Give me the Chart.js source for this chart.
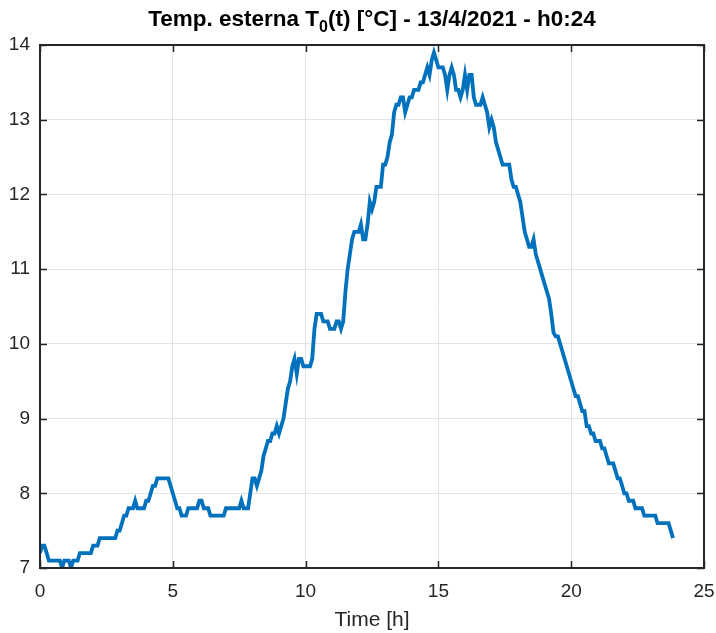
<!DOCTYPE html>
<html>
<head>
<meta charset="utf-8">
<script src="https://cdn.jsdelivr.net/npm/chart.js@4.4.0/dist/chart.umd.min.js"></script>
<style>
  html, body { margin: 0; padding: 0; background: #fff; }
  #wrap { position: relative; width: 716px; height: 633px; }
</style>
</head>
<body>
<div id="wrap"><canvas id="tempChart"></canvas></div>
<script>
// temperatura esterna, un campione ogni 5 minuti a partire dalle 0:00 (una riga per ora)
const stepMin = 5;
const temperature = [
  7.2, 7.3, 7.3, 7.2, 7.1, 7.1, 7.1, 7.1, 7.1, 7.1, 7.0, 7.1,
  7.1, 7.1, 7.0, 7.1, 7.1, 7.1, 7.2, 7.2, 7.2, 7.2, 7.2, 7.2,
  7.3, 7.3, 7.3, 7.4, 7.4, 7.4, 7.4, 7.4, 7.4, 7.4, 7.4, 7.5,
  7.5, 7.6, 7.7, 7.7, 7.8, 7.8, 7.8, 7.9, 7.8, 7.8, 7.8, 7.8,
  7.9, 7.9, 8.0, 8.1, 8.1, 8.2, 8.2, 8.2, 8.2, 8.2, 8.2, 8.1,
  8.0, 7.9, 7.8, 7.8, 7.7, 7.7, 7.7, 7.8, 7.8, 7.8, 7.8, 7.8,
  7.9, 7.9, 7.8, 7.8, 7.8, 7.7, 7.7, 7.7, 7.7, 7.7, 7.7, 7.7,
  7.8, 7.8, 7.8, 7.8, 7.8, 7.8, 7.8, 7.9, 7.8, 7.8, 7.8, 8.0,
  8.2, 8.2, 8.1, 8.2, 8.3, 8.5, 8.6, 8.7, 8.7, 8.8, 8.8, 8.9,
  8.8, 8.9, 9.0, 9.2, 9.4, 9.5, 9.7, 9.8, 9.6, 9.8, 9.8, 9.7,
  9.7, 9.7, 9.7, 9.8, 10.2, 10.4, 10.4, 10.4, 10.3, 10.3, 10.3, 10.2,
  10.2, 10.2, 10.3, 10.3, 10.2, 10.3, 10.7, 11.0, 11.2, 11.4, 11.5, 11.5,
  11.5, 11.6, 11.4, 11.4, 11.6, 11.9, 11.8, 11.9, 12.1, 12.1, 12.1, 12.4,
  12.4, 12.5, 12.7, 12.8, 13.1, 13.2, 13.2, 13.3, 13.3, 13.1, 13.2, 13.3,
  13.3, 13.4, 13.4, 13.4, 13.5, 13.5, 13.6, 13.7, 13.6, 13.8, 13.9, 13.8,
  13.7, 13.7, 13.7, 13.6, 13.4, 13.6, 13.7, 13.6, 13.4, 13.4, 13.3, 13.4,
  13.6, 13.4, 13.6, 13.6, 13.3, 13.2, 13.2, 13.2, 13.3, 13.2, 13.1, 12.9,
  13.0, 12.9, 12.7, 12.6, 12.5, 12.4, 12.4, 12.4, 12.4, 12.2, 12.1, 12.1,
  12.0, 11.9, 11.7, 11.5, 11.4, 11.3, 11.3, 11.4, 11.2, 11.1, 11.0, 10.9,
  10.8, 10.7, 10.6, 10.4, 10.15, 10.1, 10.1, 10.0, 9.9, 9.8, 9.7, 9.6,
  9.5, 9.4, 9.3, 9.3, 9.2, 9.1, 9.1, 8.9, 8.9, 8.8, 8.8, 8.7,
  8.7, 8.7, 8.6, 8.6, 8.5, 8.4, 8.4, 8.4, 8.3, 8.2, 8.2, 8.1,
  8.0, 8.0, 7.9, 7.9, 7.9, 7.8, 7.8, 7.8, 7.8, 7.7, 7.7, 7.7,
  7.7, 7.7, 7.7, 7.6, 7.6, 7.6, 7.6, 7.6, 7.6, 7.5, 7.4
];
const xTicks = [0, 5, 10, 15, 20, 25];
const yTicks = [7, 8, 9, 10, 11, 12, 13, 14];

const points = temperature.map((v, i) => ({ x: i * stepMin / 60, y: v }));

const fontFam = '"Liberation Sans", Arial, Helvetica, sans-serif';
const axisColor = '#262626';

// titolo con pedice (T con 0 in basso)
const titlePlugin = {
  id: 'titoloPedice',
  afterDraw(chart) {
    const c = chart.ctx;
    const area = chart.chartArea;
    const parts = [
      { t: 'Temp. esterna T', size: 22.5, dy: 0 },
      { t: '0', size: 16, dy: 6 },
      { t: '(t) [°C] - 13/4/2021 - h0:24', size: 22.5, dy: 0 }
    ];
    c.save();
    c.fillStyle = '#000';
    c.textBaseline = 'alphabetic';
    let total = 0;
    parts.forEach(p => {
      c.font = 'bold ' + p.size + 'px ' + fontFam;
      p.w = c.measureText(p.t).width;
      total += p.w;
    });
    let x = (area.left + area.right) / 2 - total / 2;
    const base = 26;
    parts.forEach(p => {
      c.font = 'bold ' + p.size + 'px ' + fontFam;
      c.fillText(p.t, x, base + p.dy);
      x += p.w;
    });
    c.restore();
  }
};

// riquadro chiuso e tacche rivolte verso l'interno
const boxPlugin = {
  id: 'riquadro',
  afterDatasetsDraw(chart) {
    const c = chart.ctx;
    const a = chart.chartArea;
    const sx = chart.scales.x, sy = chart.scales.y;
    const tl = 7;
    c.save();
    c.strokeStyle = axisColor;
    c.lineWidth = 1.5;
    c.beginPath();
    xTicks.forEach(v => {
      const px = Math.round(sx.getPixelForValue(v)) + 0.5;
      c.moveTo(px, a.bottom); c.lineTo(px, a.bottom - tl);
      c.moveTo(px, a.top); c.lineTo(px, a.top + tl);
    });
    yTicks.forEach(v => {
      const py = Math.round(sy.getPixelForValue(v)) + 0.5;
      c.moveTo(a.left, py); c.lineTo(a.left + tl, py);
      c.moveTo(a.right, py); c.lineTo(a.right - tl, py);
    });
    c.stroke();
    c.lineWidth = 2;
    c.strokeRect(a.left, a.top, a.right - a.left, a.bottom - a.top);
    c.restore();
  }
};

new Chart(document.getElementById('tempChart'), {
  type: 'line',
  data: {
    datasets: [{
      data: points,
      borderColor: '#0072BD',
      borderWidth: 3.8,
      pointRadius: 0,
      tension: 0,
      fill: false
    }]
  },
  options: {
    responsive: true,
    maintainAspectRatio: false,
    animation: false,
    layout: { padding: { top: 45, right: 12, left: 0, bottom: 0 } },
    plugins: {
      legend: { display: false },
      tooltip: { enabled: false }
    },
    scales: {
      x: {
        type: 'linear',
        min: 0,
        max: 25,
        afterFit(scale) {
          scale.height = 65;
          scale.paddingLeft = 0;
          scale.paddingRight = 0;
        },
        afterBuildTicks(scale) { scale.ticks = xTicks.map(v => ({ value: v })); },
        grid: { color: '#e3e3e3', drawTicks: false },
        border: { display: false },
        ticks: { color: axisColor, padding: 12, font: { family: fontFam, size: 19 } },
        title: {
          display: true,
          text: 'Time [h]',
          color: axisColor,
          font: { family: fontFam, size: 21 },
          padding: { top: 0, bottom: 0 }
        }
      },
      y: {
        min: 7,
        max: 14,
        afterFit(scale) {
          scale.width = 40;
          scale.paddingTop = 0;
          scale.paddingBottom = 0;
        },
        afterBuildTicks(scale) { scale.ticks = yTicks.map(v => ({ value: v })); },
        grid: { color: '#e3e3e3', drawTicks: false },
        border: { display: false },
        ticks: { color: axisColor, padding: 10, font: { family: fontFam, size: 19 } }
      }
    }
  },
  plugins: [titlePlugin, boxPlugin]
});
</script>
</body>
</html>
